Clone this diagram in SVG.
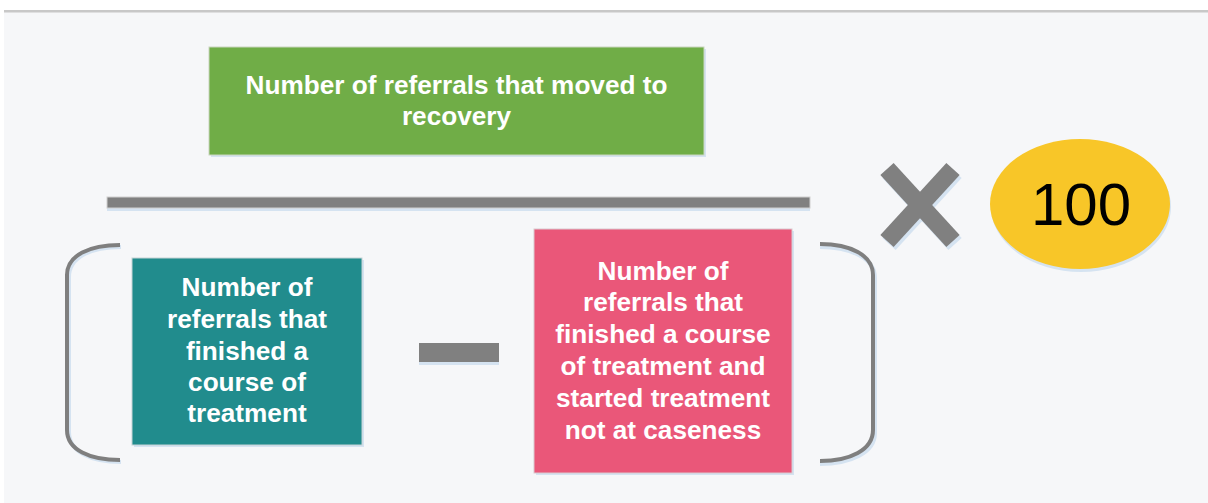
<svg xmlns="http://www.w3.org/2000/svg" width="1208" height="503" viewBox="0 0 1208 503">
<style>
.lbl{font-family:"Liberation Sans",Arial,sans-serif;font-weight:bold;font-size:26.2px;fill:#ffffff;text-anchor:middle}
.num{font-family:"Liberation Sans",Arial,sans-serif;font-size:60px;fill:#000000;text-anchor:middle}
.shadow{fill:#d5e3f1}
.op{fill:#808080}
.brk{fill:none;stroke:#7f7f7f;stroke-width:4}
.brks{fill:none;stroke:#d5e3f1;stroke-width:4}
</style>
<rect x="0" y="0" width="1208" height="503" fill="#ffffff"/>
<rect x="4" y="12" width="1204" height="491" fill="#f6f7f9"/>
<rect x="4" y="10" width="1204" height="2.5" fill="#c8c8c8"/>

<g id="numerator">
<rect class="shadow" x="211" y="49" width="495" height="108"/>
<rect x="209" y="47" width="495" height="108" fill="#70ad47" stroke="#c9d6c0" stroke-width="1"/>
<text class="lbl" x="456.5" y="94">Number of referrals that moved to</text>
<text class="lbl" x="456.5" y="125">recovery</text>
</g>

<g id="fraction-bar">
<rect class="shadow" x="107" y="200" width="703" height="11"/>
<rect class="op" x="107" y="197" width="703" height="11" stroke="#d0d0d0" stroke-width="1"/>
</g>

<g id="times">
<g stroke="#d5e3f1" stroke-width="18">
<line x1="889" y1="172" x2="955" y2="244"/>
<line x1="955" y1="172" x2="889" y2="244"/>
</g>
<g stroke="#808080" stroke-width="18">
<line x1="887" y1="169" x2="953" y2="241"/>
<line x1="953" y1="169" x2="887" y2="241"/>
</g>
</g>

<g id="hundred">
<ellipse cx="1081" cy="207" rx="90" ry="65" fill="#d5e3f1"/>
<ellipse cx="1080" cy="204" rx="90" ry="65" fill="#f8c628"/>
<text class="num" x="1081" y="225">100</text>
</g>

<g id="left-bracket">
<path class="brks" d="M121,247 C91,247 69,257 69,277 L69,432 C69,452 91,462 121,462"/>
<path class="brk" d="M120,245 C90,245 67,255 67,275 L67,430 C67,450 90,460 120,460"/>
</g>

<g id="finished">
<rect class="shadow" x="134" y="260" width="230" height="187"/>
<rect x="132" y="258" width="230" height="187" fill="#218c8d" stroke="#c6d3d6" stroke-width="1"/>
<text class="lbl" x="247" y="296">Number of</text>
<text class="lbl" x="247" y="328">referrals that</text>
<text class="lbl" x="247" y="360">finished a</text>
<text class="lbl" x="247" y="391">course of</text>
<text class="lbl" x="247" y="422">treatment</text>
</g>

<g id="minus">
<rect class="shadow" x="419" y="346" width="80" height="19"/>
<rect class="op" x="419" y="343" width="80" height="19"/>
</g>

<g id="not-caseness">
<rect class="shadow" x="536" y="231" width="258" height="244"/>
<rect x="534" y="229" width="258" height="244" fill="#ea5779" stroke="#d9c9cf" stroke-width="1"/>
<text class="lbl" x="663" y="280">Number of</text>
<text class="lbl" x="663" y="311">referrals that</text>
<text class="lbl" x="663" y="343">finished a course</text>
<text class="lbl" x="663" y="375">of treatment and</text>
<text class="lbl" x="663" y="407">started treatment</text>
<text class="lbl" x="663" y="439">not at caseness</text>
</g>

<g id="right-bracket">
<path class="brks" d="M820,247 C850,247 875,258 875,278 L875,433 C875,453 850,464 820,464"/>
<path class="brk" d="M820,244 C850,244 873,255 873,275 L873,430 C873,450 850,461 820,461"/>
</g>
</svg>
